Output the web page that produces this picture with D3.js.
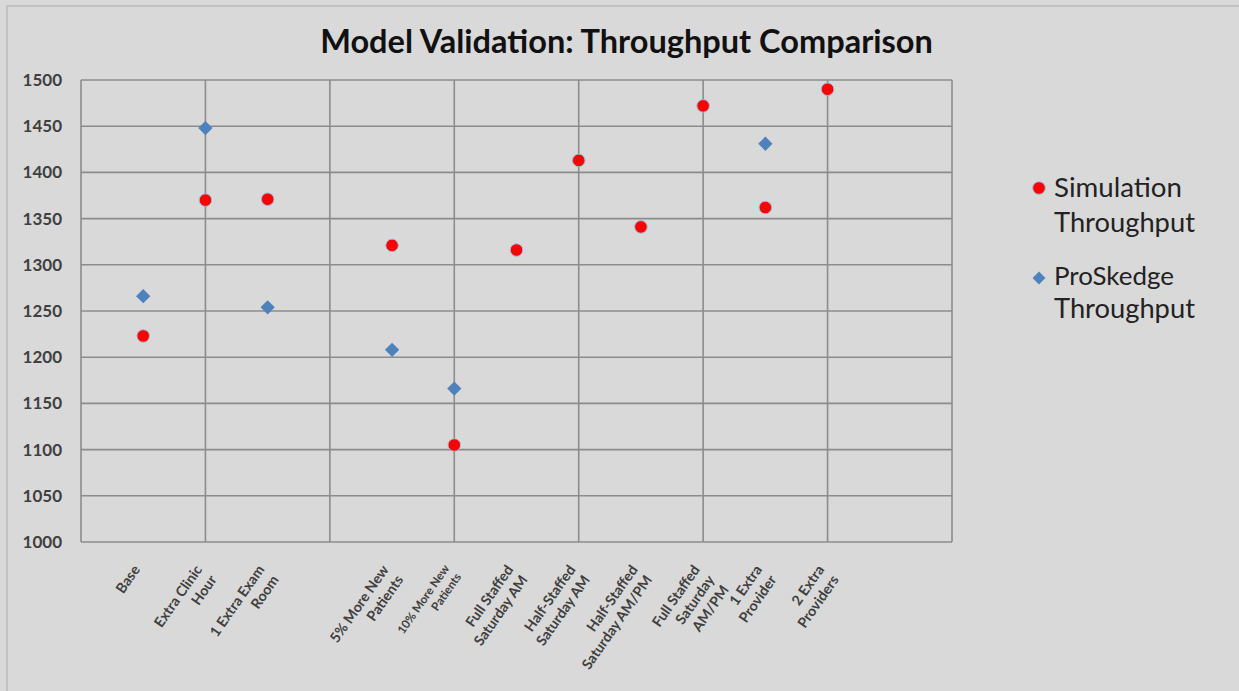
<!DOCTYPE html>
<html>
<head>
<meta charset="utf-8">
<script src="https://cdn.jsdelivr.net/npm/d3@7"></script>
<style>
  html, body { margin: 0; padding: 0; background: #d9d9d9; overflow: hidden; }
  svg { display: block; font-family: Lato, "Open Sans", sans-serif; }
</style>
</head>
<body>
<div id="chart"></div>
<script>
var width = 1239, height = 691;

// category labels (already wrapped the way the picture shows them)
var labelLines = [
  ["Base"],
  ["Extra Clinic", "Hour"],
  ["1 Extra Exam", "Room"],
  ["5% More New", "Patients"],
  ["10% More New", "Patients"],
  ["Full Staffed", "Saturday AM"],
  ["Half-Staffed", "Saturday AM"],
  ["Half-Staffed", "Saturday AM/PM"],
  ["Full Staffed", "Saturday", "AM/PM"],
  ["1 Extra", "Provider"],
  ["2 Extra", "Providers"]
];
var xPos = [1, 2, 3, 5, 6, 7, 8, 9, 10, 11, 12];
var simulation = [1223, 1370, 1371, 1321, 1105, 1316, 1413, 1341, 1472, 1362, 1490];
var proskedge = [1266, 1448, 1254, 1208, 1166, null, null, null, null, 1431, null];
var yTicks = [1000, 1050, 1100, 1150, 1200, 1250, 1300, 1350, 1400, 1450, 1500];
var xGrid = [0, 2, 4, 6, 8, 10, 12, 14];

var plot = {left: 81, top: 80, right: 952, bottom: 542};

var svg = d3.select("#chart")
  .append("svg")
  .attr("width", width)
  .attr("height", height);

// chart area frame
svg.append("rect")
  .attr("x", 7).attr("y", 6)
  .attr("width", width + 20).attr("height", height + 20)
  .attr("fill", "#d9d9d9")
  .attr("stroke", "#b9b9b9")
  .attr("stroke-width", 1.5);

var x = d3.scaleLinear().domain([0, 14]).range([plot.left, plot.right]);
var y = d3.scaleLinear().domain([1000, 1500]).range([plot.bottom, plot.top]);

// shrink / grow a text so it spans the width seen in the picture
function fitWidth(sel, target) {
  var fs = parseFloat(sel.attr("font-size"));
  var w = sel.node().getComputedTextLength();
  sel.attr("font-size", fs * target / w);
  return fs * target / w;
}

// gridlines
svg.append("g")
  .selectAll("line")
  .data(yTicks)
  .join("line")
  .attr("x1", plot.left).attr("x2", plot.right)
  .attr("y1", function(d){ return y(d); })
  .attr("y2", function(d){ return y(d); })
  .attr("stroke", "#8c8c8c")
  .attr("stroke-width", 1.6);

svg.append("g")
  .selectAll("line")
  .data(xGrid)
  .join("line")
  .attr("x1", function(d){ return x(d); })
  .attr("x2", function(d){ return x(d); })
  .attr("y1", plot.top).attr("y2", plot.bottom)
  .attr("stroke", "#8c8c8c")
  .attr("stroke-width", 1.6);

// y axis labels
var yAxis = d3.axisLeft(y).tickValues(yTicks).tickSize(0).tickPadding(19).tickFormat(d3.format("d"));
var yG = svg.append("g")
  .attr("transform", "translate(" + plot.left + ",0)")
  .call(yAxis);
yG.select(".domain").remove();
yG.selectAll("text")
  .attr("font-family", "Lato")
  .attr("font-size", 17)
  .attr("font-weight", 700)
  .attr("fill", "#404040");

// size of the category text: "Extra Clinic" is about 72px long in the picture
var probe = svg.append("text").attr("font-size", 15).attr("font-weight", 700).text("Extra Clinic");
var labelSize = fitWidth(probe, 72);
probe.remove();

// x category labels, rotated 55 degrees; wrapped lines line up on their right end
var lab = svg.append("g")
  .selectAll("g")
  .data(labelLines)
  .join("g")
  .attr("transform", function(d, i){
    return "translate(" + (x(xPos[i]) - 12) + "," + (plot.bottom + 21) + ") rotate(-55)";
  });

lab.each(function(lines) {
  var fs = lines[0] === "10% More New" ? labelSize * 0.82 : labelSize;
  var lh = fs * 1.24;
  d3.select(this).selectAll("text")
    .data(lines)
    .join("text")
    .attr("font-size", fs)
    .attr("font-weight", 700)
    .attr("fill", "#404040")
    .attr("text-anchor", "end")
    .attr("x", 0)
    .attr("y", function(d, j){ return fs * 0.8 + j * lh; })
    .text(function(d){ return d; });
});

// points
var proPoints = [];
proskedge.forEach(function(v, i){ if (v !== null) proPoints.push({x: xPos[i], v: v}); });

svg.append("g")
  .selectAll("path")
  .data(proPoints)
  .join("path")
  .attr("d", d3.symbol().type(d3.symbolDiamond2).size(130))
  .attr("transform", function(d){
    return "translate(" + x(d.x) + "," + y(d.v) + ")";
  })
  .attr("fill", "#4f81bd");

svg.append("g")
  .selectAll("circle")
  .data(simulation)
  .join("circle")
  .attr("cx", function(d, i){ return x(xPos[i]); })
  .attr("cy", function(d){ return y(d); })
  .attr("r", 6.3)
  .attr("fill", "#ff0000")
  .attr("stroke", "#9fbfdd")
  .attr("stroke-width", 1);

// title
var title = svg.append("text")
  .attr("x", 626.5).attr("y", 53)
  .attr("text-anchor", "middle")
  .attr("font-size", 31)
  .attr("font-weight", 700)
  .attr("fill", "#111")
  .text("Model Validation: Throughput Comparison");
fitWidth(title, 613);

// legend
var legend = svg.append("g");
legend.append("circle")
  .attr("cx", 1039).attr("cy", 188).attr("r", 6.3)
  .attr("fill", "#ff0000").attr("stroke", "#9fbfdd").attr("stroke-width", 1);
legend.append("path")
  .attr("d", d3.symbol().type(d3.symbolDiamond2).size(105))
  .attr("transform", "translate(1039,278)")
  .attr("fill", "#4f81bd");

var legendText = [
  {t: "Simulation", y: 197, w: 128},
  {t: "Throughput", y: 232, w: 141},
  {t: "ProSkedge", y: 285, w: 120},
  {t: "Throughput", y: 318, w: 141}
];
legendText.forEach(function(d){
  var t = legend.append("text")
    .attr("x", 1054).attr("y", d.y)
    .attr("font-size", 25)
    .attr("fill", "#222")
    .text(d.t);
  fitWidth(t, d.w);
});
</script>
</body>
</html>
